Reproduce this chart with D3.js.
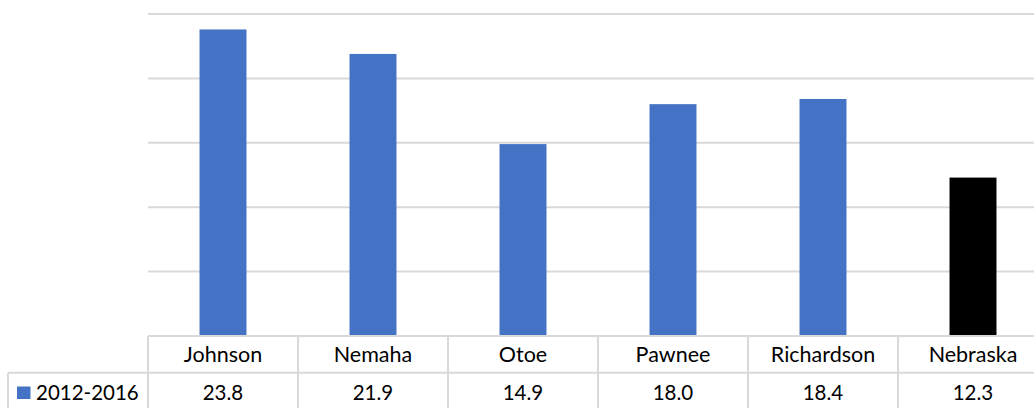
<!DOCTYPE html>
<html><head><meta charset="utf-8">
<script src="https://cdn.jsdelivr.net/npm/d3@7"></script>
<style>html,body{margin:0;padding:0;background:#fff;overflow:hidden}</style>
</head><body>
<svg id="chart" width="1034" height="408"></svg>
<script>
const categories = ["Johnson","Nemaha","Otoe","Pawnee","Richardson","Nebraska"];
const values = [23.8,21.9,14.9,18.0,18.4,12.3];
const valueLabels = ["23.8","21.9","14.9","18.0","18.4","12.3"];
const seriesName = "2012-2016";
const yTicks = [0,5,10,15,20,25];
const barColors = ["#4472C4","#4472C4","#4472C4","#4472C4","#4472C4","#000000"];

(function(){
const svg = d3.select("#chart");
const pLeft = 148, pRight = 1048, pTop = 14, pBase = 336, row2 = 372.7, pBottom = 410;
const font = "Lato, 'Open Sans', sans-serif";
const fs = 20.5, fsCat = 21.5;
const grid = "#d9d9d9";

const x = d3.scaleBand().domain(categories).range([pLeft, pRight]).paddingInner(0).paddingOuter(0);
const y = d3.scaleLinear().domain([0,25]).range([pBase, pTop]);

// gridlines
svg.append("g").selectAll("line").data(yTicks.filter(d=>d>0)).join("line")
  .attr("x1", pLeft).attr("x2", pRight)
  .attr("y1", d=>y(d)).attr("y2", d=>y(d))
  .attr("stroke", grid).attr("stroke-width", 2);

// bars
const bw = x.bandwidth()*0.313;
svg.append("g").selectAll("rect").data(values).join("rect")
  .attr("x", (d,i)=>x(categories[i]) + x.bandwidth()/2 - bw/2)
  .attr("width", bw)
  .attr("y", d=>y(d))
  .attr("height", d=>y(0)-y(d))
  .attr("fill", (d,i)=>barColors[i]);

// table lines
const t = svg.append("g").attr("stroke", grid).attr("stroke-width", 2);
t.append("line").attr("x1", pLeft).attr("x2", pRight).attr("y1", pBase).attr("y2", pBase);
t.append("line").attr("x1", 8).attr("x2", pRight).attr("y1", row2).attr("y2", row2);
t.append("line").attr("x1", 8).attr("x2", 8).attr("y1", row2).attr("y2", pBottom);
t.selectAll("line.v").data(categories).join("line").attr("class","v")
  .attr("x1", d=>x(d)).attr("x2", d=>x(d)).attr("y1", pBase).attr("y2", pBottom);

// category labels
svg.append("g").selectAll("text").data(categories).join("text")
  .attr("x", d=>x(d)+x.bandwidth()/2).attr("y", 362)
  .attr("text-anchor","middle").attr("font-family", font).attr("font-size", fsCat)
  .attr("fill","#000").text(d=>d);

// value labels
svg.append("g").selectAll("text").data(valueLabels).join("text")
  .attr("x", (d,i)=>x(categories[i])+x.bandwidth()/2).attr("y", 399.5)
  .attr("text-anchor","middle").attr("font-family", font).attr("font-size", fs)
  .attr("fill","#000").text(d=>d);

// legend key
svg.append("rect").attr("x", 17).attr("y", 386.5).attr("width", 13.5).attr("height", 12.5).attr("fill", "#4472C4");
svg.append("text").attr("x", 36).attr("y", 399.5).attr("font-family", font).attr("font-size", fs)
  .attr("fill","#000").text(seriesName);
})();
</script>
</body></html>
